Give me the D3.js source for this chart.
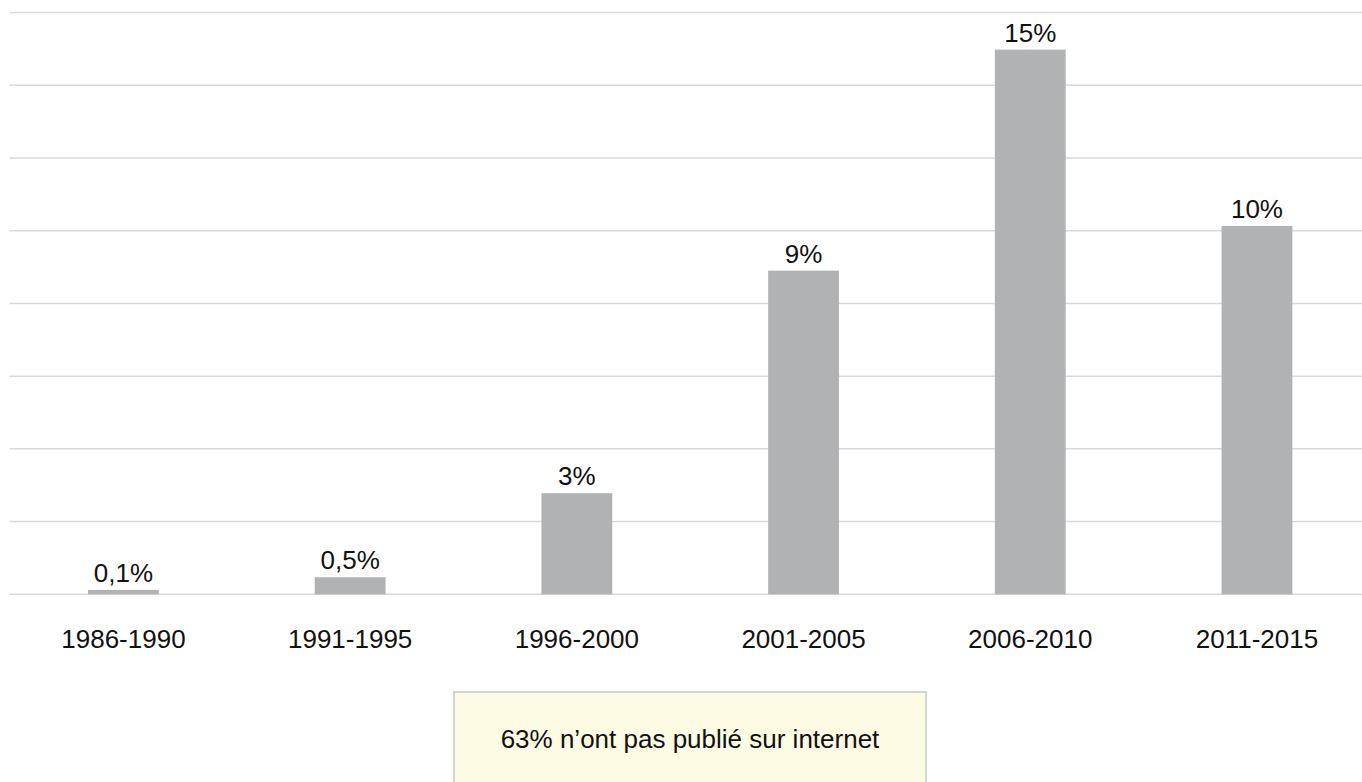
<!DOCTYPE html>
<html>
<head>
<meta charset="utf-8">
<script src="https://cdn.jsdelivr.net/npm/d3@7"></script>
<style>
  html, body { margin: 0; padding: 0; background: #fff; }
  svg { display: block; }
  text { font-family: "Liberation Sans", Arial, Helvetica, sans-serif; fill: #111; }
</style>
</head>
<body>
<svg id="chart" width="1362" height="782"></svg>
<script>
const categories = ["1986-1990", "1991-1995", "1996-2000", "2001-2005", "2006-2010", "2011-2015"];
const values = [0.12, 0.47, 2.78, 8.9, 14.98, 10.13];
const valueLabels = ["0,1%", "0,5%", "3%", "9%", "15%", "10%"];
const gridTicks = [0, 2, 4, 6, 8, 10, 12, 14, 16];
const noteText = "63% n\u2019ont pas publié sur internet";

const svg = d3.select("#chart");
const W = 1362, H = 782;
const baseY = 594.3, topY = 12.5;

const x = d3.scaleBand()
  .domain(categories)
  .range([10.1, 1370.3])
  .paddingInner(0.6877)
  .paddingOuter(0.3438);

const y = d3.scaleLinear().domain([0, 16]).range([baseY, topY]);

// gridlines
svg.append("g")
  .selectAll("line")
  .data(gridTicks)
  .join("line")
  .attr("x1", 9.5)
  .attr("x2", W)
  .attr("y1", d => y(d))
  .attr("y2", d => y(d))
  .attr("stroke", "#d9d9d9")
  .attr("stroke-width", 1.5);

// bars
svg.append("g")
  .selectAll("rect")
  .data(values)
  .join("rect")
  .attr("x", (d, i) => x(categories[i]))
  .attr("width", x.bandwidth())
  .attr("y", d => y(d))
  .attr("height", d => baseY - y(d))
  .attr("fill", "#b1b2b4");

// value labels
svg.append("g")
  .selectAll("text")
  .data(values)
  .join("text")
  .attr("x", (d, i) => x(categories[i]) + x.bandwidth() / 2)
  .attr("y", d => y(d) - 8)
  .attr("text-anchor", "middle")
  .attr("font-size", 26)
  .text((d, i) => valueLabels[i]);

// category labels
svg.append("g")
  .selectAll("text")
  .data(categories)
  .join("text")
  .attr("x", d => x(d) + x.bandwidth() / 2)
  .attr("y", 647.7)
  .attr("text-anchor", "middle")
  .attr("font-size", 26)
  .text(d => d);

// note box
const box = svg.append("g");
box.append("rect")
  .attr("x", 454)
  .attr("y", 692)
  .attr("width", 472)
  .attr("height", 120)
  .attr("fill", "#fdfbe3")
  .attr("stroke", "#d3d3d3")
  .attr("stroke-width", 2);
box.append("text")
  .attr("x", 690)
  .attr("y", 748.3)
  .attr("text-anchor", "middle")
  .attr("font-size", 26)
  .text(noteText);
</script>
</body>
</html>
